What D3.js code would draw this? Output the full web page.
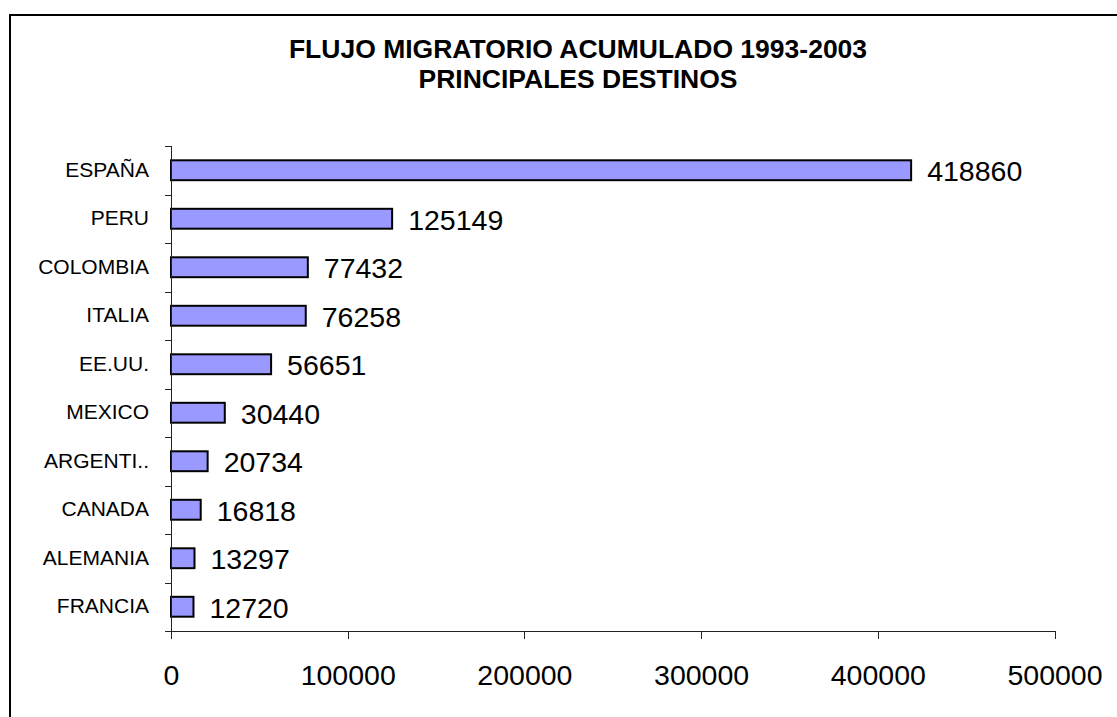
<!DOCTYPE html>
<html>
  <head>
    <meta charset="utf-8">
    <title>Flujo migratorio</title>
    <style>
      body { margin: 0; background: #fff; }
      svg { display: block; font-family: "Liberation Sans", Arial, sans-serif; }
      .bar { fill: #9999ff; stroke: #000; stroke-width: 2px; }
      .axis path, .axis line { stroke: #222; shape-rendering: crispEdges; }
    </style>
  </head>
  <body>
    <script src="https://d3js.org/d3.v7.min.js"></script>
    <script>

      // data
      var titleLines = ["FLUJO MIGRATORIO ACUMULADO 1993-2003", "PRINCIPALES DESTINOS"];
      var countries = ["ESPAÑA", "PERU", "COLOMBIA", "ITALIA", "EE.UU.", "MEXICO", "ARGENTI..", "CANADA", "ALEMANIA", "FRANCIA"];
      var migrants = [418860, 125149, 77432, 76258, 56651, 30440, 20734, 16818, 13297, 12720];
      var xTicks = [0, 100000, 200000, 300000, 400000, 500000];

      var data = countries.map(function(c, i) { return {country: c, value: migrants[i]}; });

      var W = 1117, H = 717;
      var plot = {left: 171, right: 1054.5, top: 146, bottom: 631};

      var svg = d3.select("body").append("svg")
          .attr("width", W)
          .attr("height", H);

      // outer frame (runs off the right and bottom edge)
      svg.append("rect")
          .attr("x", 10)
          .attr("y", 15)
          .attr("width", 1200)
          .attr("height", 800)
          .attr("fill", "none")
          .attr("stroke", "#000")
          .attr("stroke-width", 2);

      // title
      svg.selectAll(".title")
          .data(titleLines)
          .enter().append("text")
          .attr("class", "title")
          .attr("x", 578)
          .attr("y", function(d, i) { return 58 + i * 30; })
          .attr("text-anchor", "middle")
          .style("font-size", "26.5px")
          .style("font-weight", "bold")
          .text(function(d) { return d; });

      // scales
      var x = d3.scaleLinear()
          .domain([0, 500000])
          .range([plot.left, plot.right]);

      var y = d3.scaleBand()
          .domain(countries)
          .range([plot.top, plot.bottom])
          .paddingInner(0.59)
          .paddingOuter(0.295);

      // bars
      svg.selectAll(".bar")
          .data(data)
          .enter().append("rect")
          .attr("class", "bar")
          .attr("x", x(0))
          .attr("y", function(d) { return y(d.country); })
          .attr("width", function(d) { return x(d.value) - x(0); })
          .attr("height", y.bandwidth());

      // value labels
      svg.selectAll(".val")
          .data(data)
          .enter().append("text")
          .attr("class", "val")
          .attr("x", function(d) { return x(d.value) + 16; })
          .attr("y", function(d) { return y(d.country) + y.bandwidth() / 2; })
          .attr("dy", "0.38em")
          .style("font-size", "28.5px")
          .text(function(d) { return d.value; });

      // x axis
      var xAxis = svg.append("g")
          .attr("class", "axis")
          .attr("transform", "translate(0," + plot.bottom + ")")
          .call(d3.axisBottom(x).tickValues(xTicks).tickSize(8).tickSizeOuter(0).tickPadding(26)
                .tickFormat(d3.format("d")));
      xAxis.select(".domain").attr("d", "M" + (plot.left - 6) + ",0.5H" + plot.right);
      xAxis.selectAll("text")
          .style("font-size", "28.5px")
          .style("font-family", "Liberation Sans, Arial, sans-serif")
          .attr("fill", "#000");

      // y axis: ticks sit between the categories
      var yAxis = svg.append("g")
          .attr("class", "axis")
          .attr("transform", "translate(" + plot.left + ",0)")
          .call(d3.axisLeft(y).tickSize(0).tickPadding(22));
      yAxis.select(".domain").attr("d", "M0.5," + plot.top + "V" + plot.bottom);
      yAxis.selectAll("text")
          .style("font-size", "21px")
          .style("font-family", "Liberation Sans, Arial, sans-serif")
          .attr("fill", "#000");

      var bounds = countries.map(function(c) { return y(c) - y.step() * y.paddingInner() / 2; });
      bounds.push(plot.bottom);
      yAxis.selectAll(".sep")
          .data(bounds)
          .enter().append("line")
          .attr("class", "sep")
          .attr("x1", -6)
          .attr("x2", 0)
          .attr("y1", function(d) { return Math.round(d) + 0.5; })
          .attr("y2", function(d) { return Math.round(d) + 0.5; });

    </script>
  </body>
</html>
